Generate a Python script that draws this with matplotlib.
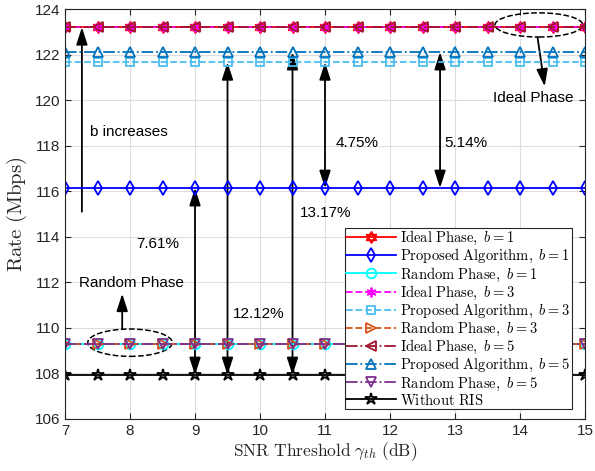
import numpy as np
import matplotlib
matplotlib.use("Agg")
import matplotlib.pyplot as plt
from matplotlib.path import Path
from matplotlib.patches import Ellipse, FancyArrowPatch

# ---- data ----
snr = [7, 7.5, 8, 8.5, 9, 9.5, 10, 10.5, 11, 11.5, 12, 12.5, 13, 13.5, 14, 14.5, 15]
ideal_b1 = [123.2] * 17
prop_b1 = [116.14] * 17
rand_b1 = [109.3] * 17
ideal_b3 = [123.2] * 17
prop_b3 = [121.66] * 17
rand_b3 = [109.3] * 17
ideal_b5 = [123.2] * 17
prop_b5 = [122.11] * 17
rand_b5 = [109.3] * 17
no_ris = [107.93] * 17
xticks = [7, 8, 9, 10, 11, 12, 13, 14, 15]
yticks = [106, 108, 110, 112, 114, 116, 118, 120, 122, 124]

plt.rcParams['mathtext.fontset'] = 'cm'

# hexagram marker
t = np.deg2rad([90, 210, 330, 90])
t2 = np.deg2rad([270, 30, 150, 270])
verts = list(zip(np.cos(t), np.sin(t))) + list(zip(np.cos(t2), np.sin(t2)))
codes = [Path.MOVETO, Path.LINETO, Path.LINETO, Path.CLOSEPOLY] * 2
hexagram = Path(verts, codes)

fig = plt.figure(figsize=(5.95, 4.71), dpi=100)
ax = fig.add_axes([65 / 595, 1 - 419 / 471, 520 / 595, 410 / 471])

ms = 7
series = [
    (ideal_b1, r'$\mathrm{Ideal\ Phase,}\ b = 1$', '#FF0000', '-', hexagram, ms + 1),
    (prop_b1, r'$\mathrm{Proposed\ Algorithm,}\ b = 1$', '#0000FF', '-', 'd', ms),
    (rand_b1, r'$\mathrm{Random\ Phase,}\ b = 1$', '#00FFFF', '-', 'o', ms),
    (ideal_b3, r'$\mathrm{Ideal\ Phase,}\ b = 3$', '#FF00FF', '--', (6, 2, 0), ms),
    (prop_b3, r'$\mathrm{Proposed\ Algorithm,}\ b = 3$', '#4DBEEE', '--', 's', ms - 1),
    (rand_b3, r'$\mathrm{Random\ Phase,}\ b = 3$', '#D95319', '--', '>', ms),
    (ideal_b5, r'$\mathrm{Ideal\ Phase,}\ b = 5$', '#A2142F', '-.', '<', ms),
    (prop_b5, r'$\mathrm{Proposed\ Algorithm,}\ b = 5$', '#0072BD', '-.', '^', ms),
    (rand_b5, r'$\mathrm{Random\ Phase,}\ b = 5$', '#7E2F8E', '-.', 'v', ms),
    (no_ris, r'$\mathrm{Without\ RIS}$', '#000000', '-', '*', ms + 2),
]
for y, lab, c, ls, mk, s in series:
    ax.plot(snr, y, color=c, linestyle=ls, marker=mk, markersize=s,
            markerfacecolor='none', markeredgecolor=c, markeredgewidth=1.3,
            linewidth=1.3, label=lab)

ax.set_xlim(7, 15)
ax.set_ylim(106, 124)
ax.set_xticks(xticks)
ax.set_yticks(yticks)
ax.grid(True, color='#DDDDDD', linewidth=0.8)
ax.set_axisbelow(True)
for sp in ax.spines.values():
    sp.set_color('#262626')
    sp.set_linewidth(0.8)
ax.tick_params(direction='in', length=4, labelsize=11, colors='#262626',
               top=True, right=True)
for lbl in ax.get_xticklabels() + ax.get_yticklabels():
    lbl.set_family(['Liberation Sans', 'DejaVu Sans'])
ax.set_xlabel(r'$\mathrm{SNR\ Threshold}\ \gamma_{th}\ \mathrm{(dB)}$', fontsize=12.5,
              color='#262626', labelpad=2)
ax.set_ylabel(r'$\mathrm{Rate\ (Mbps)}$', fontsize=15, color='#262626', labelpad=4)

leg = ax.legend(loc='lower right', prop={'size': 10.5},
                fancybox=False, edgecolor='#262626', framealpha=1,
                handlelength=3.4, borderpad=0.1, labelspacing=0.0,
                handletextpad=0.3, borderaxespad=0,
                bbox_to_anchor=(1 - 13 / 520, 10 / 410))
leg.get_frame().set_linewidth(0.8)

sans = ['Liberation Sans', 'DejaVu Sans']

def arrow(x0, y0, x1, y1, both=False):
    style = '<|-|>' if both else '-|>'
    a = FancyArrowPatch((x0, y0), (x1, y1),
                        arrowstyle=style + ',head_length=10.5,head_width=3.4',
                        color='black', linewidth=1.3, shrinkA=0, shrinkB=0,
                        mutation_scale=1)
    ax.add_patch(a)

# b increases
arrow(7.26, 115.1, 7.26, 123.2)
ax.text(7.38, 118.6, 'b increases', family=sans, fontsize=11, va='center')
# double arrows
arrow(9.0, 107.93, 9.0, 116.14, both=True)
ax.text(8.1, 113.7, '7.61%', family=sans, fontsize=11, va='center')
arrow(9.5, 107.93, 9.5, 121.66, both=True)
ax.text(9.58, 110.6, '12.12%', family=sans, fontsize=11, va='center')
arrow(10.5, 107.93, 10.5, 122.11, both=True)
ax.text(10.62, 115.05, '13.17%', family=sans, fontsize=11, va='center')
arrow(11.0, 116.14, 11.0, 121.66, both=True)
ax.text(11.17, 118.1, '4.75%', family=sans, fontsize=11, va='center')
arrow(12.77, 116.14, 12.77, 122.11, both=True)
ax.text(12.83, 118.1, '5.14%', family=sans, fontsize=11, va='center')

# ideal phase ellipse
ax.add_patch(Ellipse((14.29, 123.3), 1.35, 1.06, fill=False, linestyle='--',
                     edgecolor='black', linewidth=1.1))
arrow(14.27, 122.75, 14.38, 120.6)
ax.text(14.2, 120.1, 'Ideal Phase', family=sans, fontsize=11, ha='center', va='center')

# random phase ellipse
ax.add_patch(Ellipse((8.0, 109.35), 1.3, 1.2, fill=False, linestyle='--',
                     edgecolor='black', linewidth=1.1))
arrow(7.88, 109.95, 7.88, 111.5)
ax.text(8.02, 111.95, 'Random Phase', family=sans, fontsize=11, ha='center', va='center')

fig.savefig('out.png', dpi=100)
